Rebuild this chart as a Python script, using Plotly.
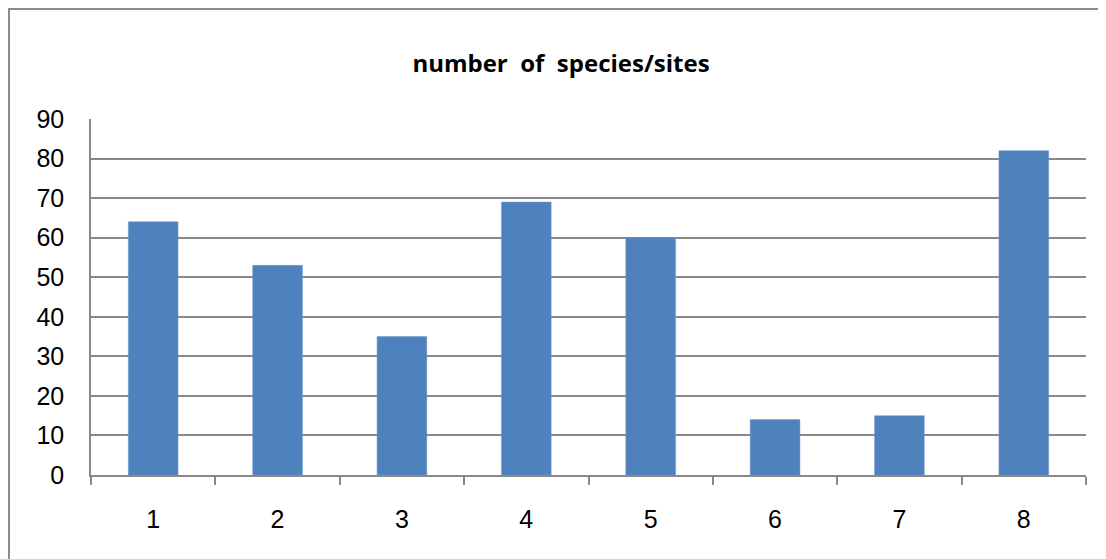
import plotly.graph_objects as go

categories = ["1", "2", "3", "4", "5", "6", "7", "8"]
values = [64, 53, 35, 69, 60, 14, 15, 82]
y_ticks = [0, 10, 20, 30, 40, 50, 60, 70, 80, 90]

# page body has an 8px margin; figure is sized/offset to land on the reference pixels
W, H = 1098, 551
L, R, T, B = 83, 20, 111, 84
pw, ph = W - L - R, H - T - B

fig = go.Figure(go.Bar(
    x=categories, y=values,
    marker=dict(color="#4F81BD", line=dict(color="#6F9BD0", width=0.5)),
))

def px_x(x):
    return (x - L) / pw

def px_y(y):
    return (H - B - y) / ph

fig.add_shape(type="rect", xref="paper", yref="paper",
              x0=px_x(1), x1=px_x(W + 2), y0=px_y(H + 2), y1=px_y(1),
              line=dict(color="#8C8C8C", width=2), layer="below")

fig.update_layout(
    width=W, height=H,
    margin=dict(l=L, r=R, t=T, b=B),
    paper_bgcolor="white", plot_bgcolor="white",
    bargap=0.6,
    showlegend=False,
    title=dict(text="<b>number  of  species/sites</b>", xref="container", x=553 / W,
               xanchor="center", yref="container", y=1 - 56 / H, yanchor="middle",
               font=dict(family="Open Sans, Liberation Sans, sans-serif", size=24, color="black")),
    font=dict(family="Liberation Sans, Arial, sans-serif", size=25, color="black"),
)
fig.update_xaxes(type="category", showline=True, linecolor="#898989", linewidth=1.5,
                 ticks="outside", tickson="boundaries", ticklen=8, tickcolor="#898989",
                 tickwidth=1.5, showgrid=False, tickfont=dict(size=25),
                 ticklabelstandoff=21, fixedrange=True)
fig.update_yaxes(range=[0, 90], tickvals=y_ticks, showline=True, linecolor="#898989",
                 linewidth=1.5, showgrid=True, gridcolor="#898989", gridwidth=1.5,
                 ticks="", ticklabelstandoff=20, zeroline=False, tickfont=dict(size=25))

fig.write_html("out.html")
